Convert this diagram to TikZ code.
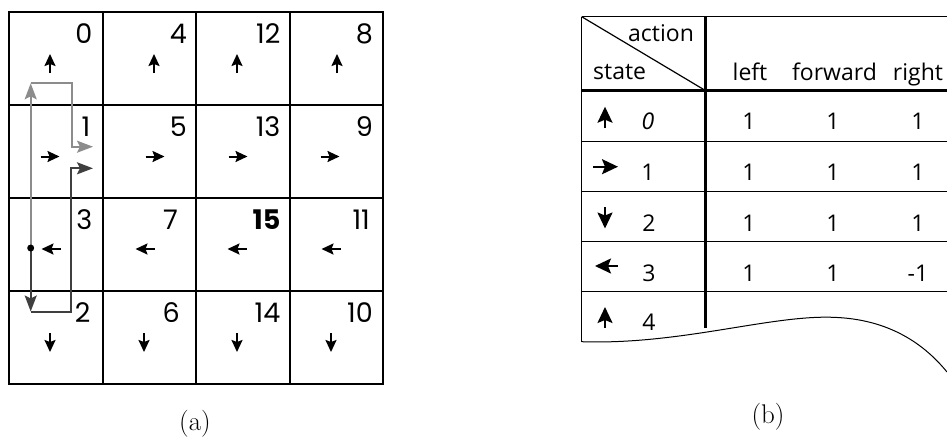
\documentclass[tikz,border=0pt]{standalone}
\usepackage{fontspec}
\usetikzlibrary{arrows.meta}
\newfontfamily\gridfont{Poppins}
\newfontfamily\tabfont{Open Sans}
\definecolor{pathlight}{HTML}{8C8C8C}
\definecolor{pathdark}{HTML}{3F3F3F}
\tikzset{
  gridcell/.style={draw, line width=2pt, minimum width=93.5pt, minimum height=93pt,
    inner sep=0pt, outer sep=0pt},
  cellnum/.style={font=\gridfont\fontsize{27}{27}\selectfont, anchor=base east, inner sep=0pt},
  cellarrow/.style={line width=2pt, -{Stealth[length=12pt,width=11pt,inset=2pt]}},
  bigarrow/.style={line width=2pt, -{Stealth[length=16pt,width=15pt,inset=3pt]}},
  lightpath/.style={draw=pathlight, line width=2pt},
  darkpath/.style={draw=pathdark, line width=2pt},
  pathtip/.style={-{Stealth[length=16pt,width=12pt,inset=3pt]}},
  thinrule/.style={line width=1.2pt},
  thickrule/.style={line width=3.4pt},
  tabtext/.style={font=\tabfont\fontsize{23}{23}\selectfont, inner sep=0pt},
  caption/.style={font=\fontsize{27}{27}\selectfont, inner sep=0pt}
}
\begin{document}
\begin{tikzpicture}[x=1pt,y=-1pt]
\useasboundingbox (0,0) rectangle (947,440);

% ---------- (a) grid world ----------
% number / column / row / arrow x / arrow y / direction (u,v)
\foreach \n/\c/\r/\ax/\ay/\u/\v in {
   0/0/0/50/63.5/0/-1,   4/1/0/154/63.5/0/-1,  12/2/0/237/63.5/0/-1,   8/3/0/337/63.5/0/-1,
   1/0/1/50/156.5/1/0,   5/1/1/155/156.5/1/0,  13/2/1/238/156.5/1/0,   9/3/1/330/156.5/1/0,
   3/0/2/51/249/-1/0,    7/1/2/145/249/-1/0,   15/2/2/237/249/-1/0,   11/3/2/331/249/-1/0,
   2/0/3/50/342.5/0/1,   6/1/3/144/342.5/0/1,  14/2/3/237/342.5/0/1,  10/3/3/331/342.5/0/1}{
  \node[gridcell] (s\n) at ({9+93.5*\c+46.75},{12+93*\r+46.5}) {};
  \draw[cellarrow] ({\ax-9.5*\u},{\ay-9.5*\v}) -- ({\ax+9.5*\u},{\ay+9.5*\v});
}
% state numbers in the upper right corner of each cell
\foreach \n/\g in {0/10,4/9,12/9,8/10,1/12,5/9,13/9,9/10,3/10,7/18,11/13,2/12,6/16,14/9,10/10}{
  \node[cellnum] (n\n) at ([xshift=-\g pt, yshift=-31pt]s\n.north east) {\n};
}
\node[cellnum] (n15) at ([xshift=-9pt, yshift=-31pt]s15.north east) {\bfseries 15};

% trajectory through states 3 -> 0 -> 1 and 3 -> 2 -> 1
\coordinate (dot) at (30.7,248);
\coordinate (g1) at (30.7,83.3);
\coordinate (g2) at (71.7,83.3);
\coordinate (g3) at (71.7,146.7);
\coordinate (g4) at (93,146.7);
\coordinate (d1) at (30.7,311.5);
\coordinate (d2) at (71,311.5);
\coordinate (d3) at (71,168.3);
\coordinate (d4) at (93,168.3);
\draw[lightpath, pathtip] (dot) -- (g1);
\draw[lightpath, pathtip] (g1) -- (g2) -- (g3) -- (g4);
\draw[darkpath, pathtip] (dot) -- (d1);
\draw[darkpath, pathtip] (d1) -- (d2) -- (d3) -- (d4);
\fill (dot) circle (3.5pt);

\node[caption] (capa) at (195,424) {(a)};

% ---------- (b) table ----------
\coordinate (tl) at (581.7,16.7);
\coordinate (tr) at (947,16.7);
\coordinate (hd) at (705.7,90.7);
\draw[thinrule] (tl) -- (tr);
\draw[thinrule] (tl) -- (581.7,341.7);
\draw[thinrule] (tl) -- (hd);
\draw[thickrule] (581.7,90.7) -- (947,90.7);
\draw[thickrule] (705.7,16.7) -- (705.7,328);
\foreach \y in {141.7,191.7,241.7,291.7}{
  \draw[thinrule] (581.7,\y) -- (947,\y);
}
% torn lower edge
\draw[line width=1pt] (581.7,341.7) .. controls (680,345) and (770,315) .. (833,317.3)
  .. controls (890,319) and (925,345) .. (947,372);

\node[tabtext, anchor=base west] (act) at (628,41.7) {action};
\node[tabtext, anchor=base west] (st) at (593,79) {state};
\node[tabtext, anchor=base] (hl) at (750,80) {left};
\node[tabtext, anchor=base] (hf) at (834.5,80) {forward};
\node[tabtext, anchor=base] (hr) at (918,80) {right};

% state column: heading arrow and index
\draw[bigarrow] (605,128.3) -- (605,106.7);
\draw[bigarrow] (593,166.7) -- (618,166.7);
\draw[bigarrow] (605,207) -- (605,228.5);
\draw[bigarrow] (618,266) -- (595,266);
\draw[bigarrow] (605,328) -- (605,307);
\node[tabtext] (k0) at (648,121) {\itshape 0};
\node[tabtext] (k1) at (648,172) {1};
\node[tabtext] (k2) at (649,223) {2};
\node[tabtext] (k3) at (649,273) {3};
\node[tabtext] (k4) at (649,322) {4};

% action values
\foreach \y/\a/\b/\c [count=\i] in {121/1/1/1, 172/1/1/1, 223.5/1/1/1, 273/1/1/-1}{
  \node[tabtext] (vl\i) at (749,\y) {\a};
  \node[tabtext] (vf\i) at (833,\y) {\b};
  \node[tabtext] (vr\i) at (918,\y) {\c};
}

\node[caption] (capb) at (768,417) {(b)};
\end{tikzpicture}
\end{document}
